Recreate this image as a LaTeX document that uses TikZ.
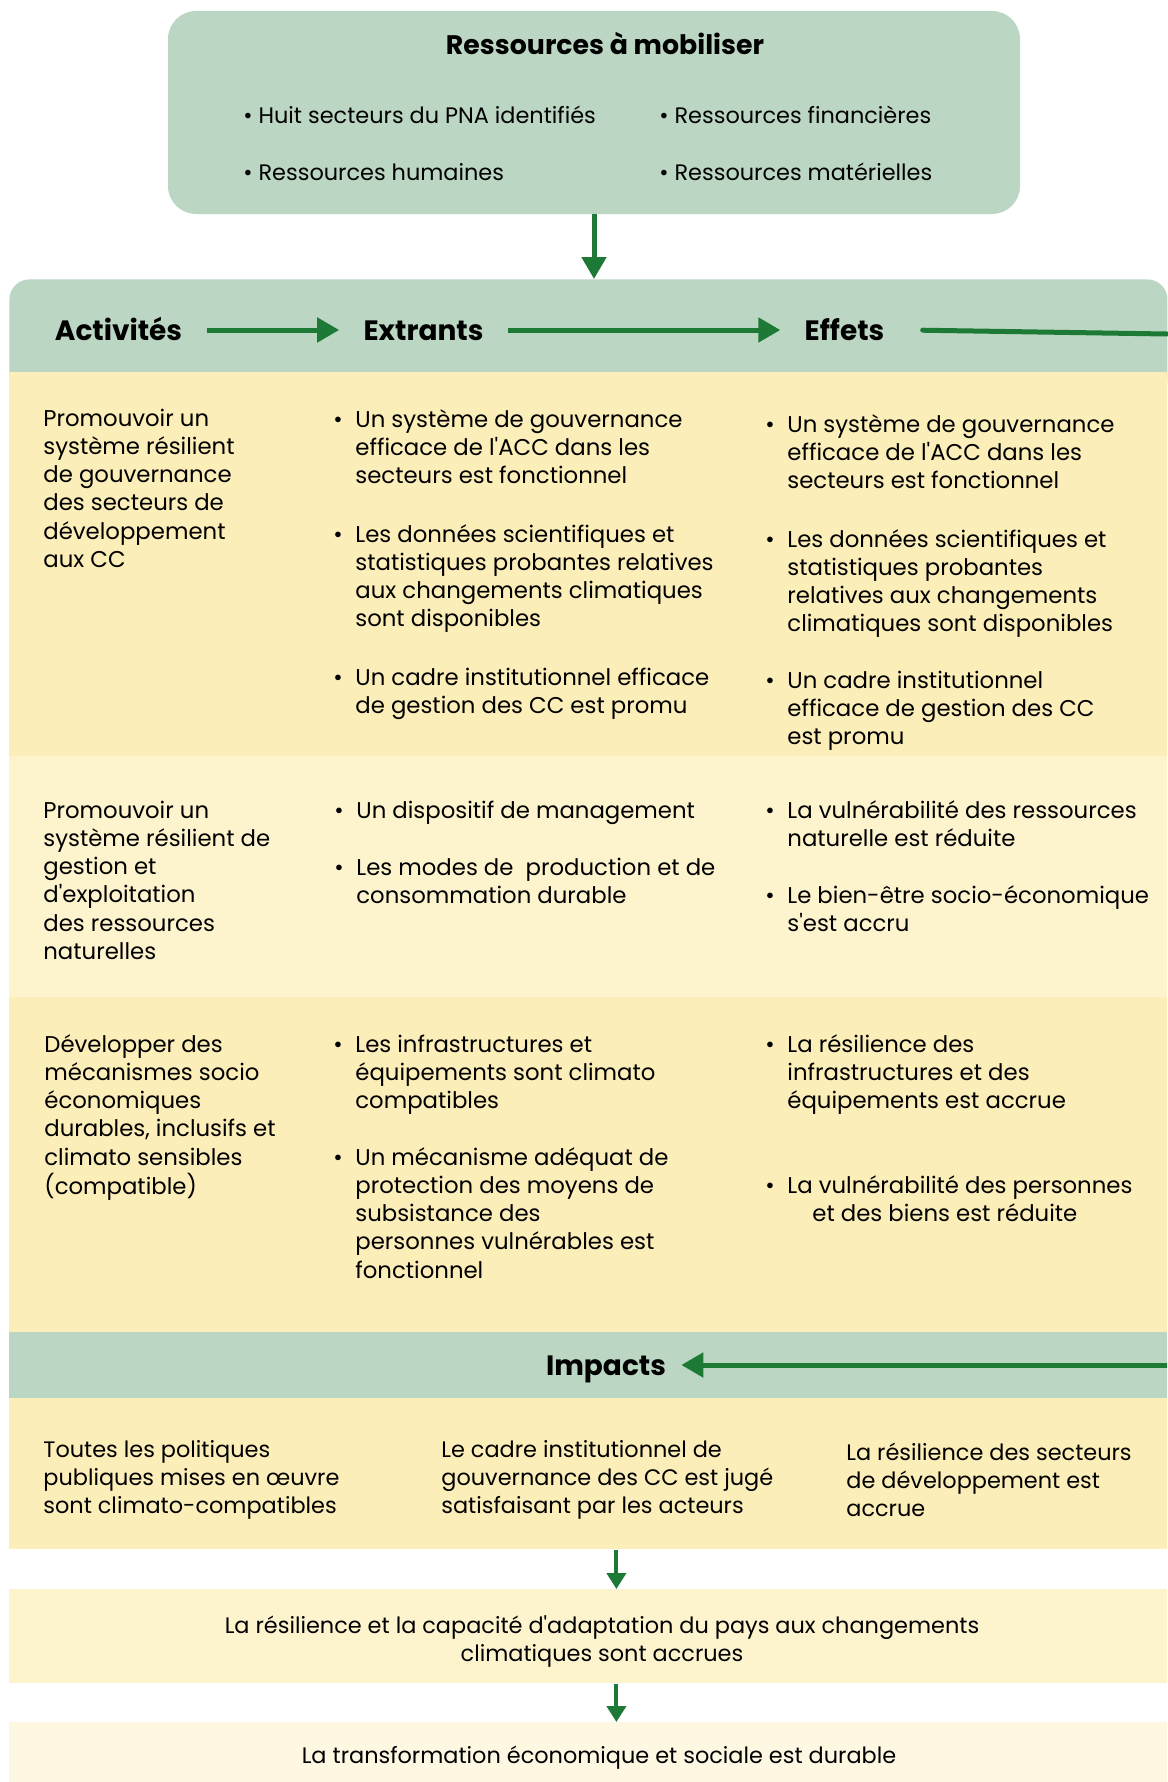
\documentclass[tikz,border=0pt]{standalone}
\usepackage{fontspec}
\setmainfont{Poppins}[Ligatures=TeXOff]
\usepackage{tikz}
\usetikzlibrary{arrows.meta}
\definecolor{bandgreen}{HTML}{BBD7C3}
\definecolor{arrowgreen}{HTML}{1D7A36}
\definecolor{ydark}{HTML}{FCEEB8}
\definecolor{ylight}{HTML}{FDF4CE}
\definecolor{ypale}{HTML}{FEF8E3}
\tikzset{
    band/.style={rectangle, inner sep=0pt, minimum width=579pt, anchor=north west},
    txt/.style={anchor=base west, inner sep=0pt, font=\fontsize{11.4}{14.15}\selectfont},
    smalltxt/.style={txt, font=\fontsize{11.2}{14.15}\selectfont},
    dotb/.style={anchor=base west, inner sep=0pt, font=\fontsize{11.4}{14.15}\selectfont},
    headtxt/.style={anchor=base, inner xsep=12pt, inner ysep=0pt, text height=10pt, text depth=0pt, font=\fontsize{14}{16}\selectfont\bfseries},
    flow/.style={arrowgreen, line width=2.5pt, -{Triangle[length=11pt, width=12pt]}},
    flowsm/.style={arrowgreen, line width=2pt, -{Triangle[length=8pt, width=9.5pt]}},
    flowline/.style={arrowgreen, line width=2.5pt, line cap=round}
}
\newcommand{\txtblock}[1]{\begin{tabular}[t]{@{}l@{}}#1\end{tabular}}
\newcommand{\bitem}[4]{%
    \node[dotb] (#3d) at (#1-22,#2) {\textbullet};
    \node[txt] (#3) at (#1,#2) {\txtblock{#4}};}

\begin{document}
\begin{tikzpicture}[x=0.5pt, y=-0.5pt]
    \useasboundingbox (0,0) rectangle (1167,1782);

    \node[fill=bandgreen, rounded corners=14pt, minimum width=426pt, minimum height=101.5pt, inner sep=0pt] (res) at (594,112.5) {};
    \node[anchor=base, inner sep=0pt, font=\fontsize{13.4}{16}\selectfont\bfseries] (restitle) at (605,55) {Ressources à mobiliser};
    \node[smalltxt] (r1) at (243,124) {•\hspace{3pt}Huit secteurs du PNA identifiés};
    \node[smalltxt] (r2) at (659,124) {•\hspace{3pt}Ressources financières};
    \node[smalltxt] (r3) at (243,180) {•\hspace{3pt}Ressources humaines};
    \node[smalltxt] (r4) at (659,180) {•\hspace{3pt}Ressources matérielles};

    \node[band, fill=bandgreen, rounded corners=10pt, minimum height=60.5pt] (hdr) at (9,279) {};
    \draw[flow] (res.south) -- (hdr.north -| res.south);

    \node[band, fill=ydark, minimum height=192pt] (row1) at (9,372) {};
    \node[band, fill=ylight, minimum height=120.5pt] (row2) at (9,756) {};
    \node[band, fill=ydark, minimum height=167.5pt] (row3) at (9,997) {};
    \node[band, fill=bandgreen, minimum height=33pt] (imphdr) at (9,1332) {};
    \node[band, fill=ydark, minimum height=75.5pt] (improw) at (9,1398) {};
    \node[band, fill=ylight, minimum height=47pt] (goal) at (9,1589) {};
    \node[band, fill=ypale, minimum height=30pt] (vision) at (9,1722) {};

    \node[headtxt] (act) at (118.5,340) {Activités};
    \node[headtxt] (ext) at (423.5,340) {Extrants};
    \node[headtxt] (eff) at (844.5,340) {Effets};
    \coordinate (effend) at (1167,334);
    \draw[flow] (act.east) -- (ext.west);
    \draw[flow] (ext.east) -- (eff.west);
    \draw[flowline, shorten <=7pt] (eff.east) -- (effend);

    \node[txt] (a1) at (43,426) {\txtblock{Promouvoir un\\système résilient\\de gouvernance\\des secteurs de\\développement\\aux CC}};
    \bitem{355}{427}{x1}{Un système de gouvernance\\efficace de l'ACC dans les\\secteurs est fonctionnel}
    \bitem{355}{542}{x2}{Les données scientifiques et\\statistiques probantes relatives\\aux changements climatiques\\sont disponibles}
    \bitem{355}{685}{x3}{Un cadre institutionnel efficace\\de gestion des CC est promu}
    \bitem{787}{432}{e1}{Un système de gouvernance\\efficace de l'ACC dans les\\secteurs est fonctionnel}
    \bitem{787}{547}{e2}{Les données scientifiques et\\statistiques probantes\\relatives aux changements\\climatiques sont disponibles}
    \bitem{787}{688}{e3}{Un cadre institutionnel\\efficace de gestion des CC\\est promu}

    \node[txt] (a2) at (43,818) {\txtblock{Promouvoir un\\système résilient de\\gestion et\\d'exploitation\\des ressources\\naturelles}};
    \bitem{356}{818}{x4}{Un dispositif de management}
    \bitem{356}{875}{x5}{Les modes de \ production et de\\consommation durable}
    \bitem{787}{818}{e4}{La vulnérabilité des ressources\\naturelle est réduite}
    \bitem{787}{903}{e5}{Le bien-être socio-économique\\s'est accru}

    \node[txt] (a3) at (44,1052) {\txtblock{Développer des\\mécanismes socio\\économiques\\durables, inclusifs et\\climato sensibles\\(compatible)}};
    \bitem{355}{1052}{x6}{Les infrastructures et\\équipements sont climato\\compatibles}
    \bitem{355}{1165}{x7}{Un mécanisme adéquat de\\protection des moyens de\\subsistance des\\personnes vulnérables est\\fonctionnel}
    \bitem{787}{1052}{e6}{La résilience des\\infrastructures et des\\équipements est accrue}
    \bitem{787}{1193}{e7}{La vulnérabilité des personnes\\\hspace{12.5pt}et des biens est réduite}

    \node[headtxt, inner xsep=7.5pt] (imp) at (606,1375) {Impacts};
    \coordinate (impstart) at (1167,1365);
    \draw[flow] (impstart) -- (imp.east);

    \node[smalltxt] (i1) at (43,1457) {\txtblock{Toutes les politiques\\publiques mises en œuvre\\sont climato-compatibles}};
    \node[smalltxt] (i2) at (441,1457) {\txtblock{Le cadre institutionnel de\\gouvernance des CC est jugé\\satisfaisant par les acteurs}};
    \node[smalltxt] (i3) at (846,1460) {\txtblock{La résilience des secteurs\\de développement est\\accrue}};

    \draw[flowsm] ([xshift=14pt]improw.south) -- ([xshift=14pt]goal.north);
    \node[smalltxt, anchor=base] (g1) at (602,1633) {\begin{tabular}[t]{@{}c@{}}La résilience et la capacité d'adaptation du pays aux changements\\climatiques sont accrues\end{tabular}};
    \draw[flowsm] ([xshift=14pt]goal.south) -- ([xshift=14pt]vision.north);
    \node[smalltxt, anchor=base] (v1) at (599,1763) {La transformation économique et sociale est durable};
\end{tikzpicture}
\end{document}
